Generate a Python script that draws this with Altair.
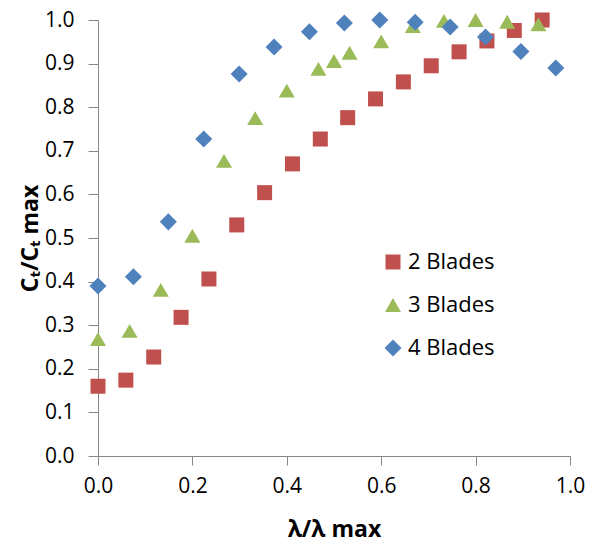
import altair as alt
import pandas as pd

series_names = ["2 Blades", "3 Blades", "4 Blades"]

x2 = [0.0, 0.059, 0.118, 0.176, 0.235, 0.294, 0.353, 0.412, 0.471, 0.529,
      0.588, 0.647, 0.706, 0.765, 0.824, 0.882, 0.941]
y2 = [0.160, 0.174, 0.227, 0.318, 0.406, 0.530, 0.604, 0.670, 0.727, 0.776,
      0.819, 0.858, 0.895, 0.927, 0.952, 0.976, 1.000]

x3 = [0.0, 0.067, 0.133, 0.200, 0.267, 0.333, 0.400, 0.467, 0.500, 0.533,
      0.600, 0.667, 0.733, 0.800, 0.867, 0.933]
y3 = [0.268, 0.287, 0.381, 0.505, 0.677, 0.775, 0.838, 0.888, 0.906, 0.925,
      0.951, 0.986, 0.998, 1.000, 0.996, 0.990]

x4 = [0.0, 0.075, 0.149, 0.224, 0.299, 0.373, 0.448, 0.522, 0.597, 0.672,
      0.746, 0.821, 0.896, 0.970]
y4 = [0.390, 0.411, 0.537, 0.727, 0.876, 0.938, 0.973, 0.993, 1.000, 0.995,
      0.984, 0.961, 0.928, 0.890]

x_ticks = [0.0, 0.2, 0.4, 0.6, 0.8, 1.0]
y_ticks = [0.0, 0.1, 0.2, 0.3, 0.4, 0.5, 0.6, 0.7, 0.8, 0.9, 1.0]

colors = ["#C0504D", "#9BBB59", "#4F81BD"]
shapes = ["square", "triangle-up", "diamond"]
sizes = [225, 290, 300]

rows = []
for name, xs, ys in zip(series_names, [x2, x3, x4], [y2, y3, y4]):
    for a, b in zip(xs, ys):
        rows.append({"x": a, "y": b, "series": name})
df = pd.DataFrame(rows)

FONT = "Open Sans"

legend_kw = dict(title=None, orient="none", legendX=284, legendY=231)

chart = alt.Chart(df).mark_point(filled=True, opacity=1, strokeWidth=0).encode(
    x=alt.X("x:Q",
            scale=alt.Scale(domain=[0, 1], nice=False, zero=False),
            axis=alt.Axis(values=x_ticks, format=".1f", title="λ/λ max",
                          grid=False, tickSize=9, labelPadding=10,
                          labelFlush=False, titleY=62, titleFontSize=23)),
    y=alt.Y("y:Q",
            scale=alt.Scale(domain=[0, 1], nice=False, zero=False),
            axis=alt.Axis(values=y_ticks, format=".1f", title="Cₜ/Cₜ max",
                          grid=False, tickSize=10, labelPadding=14,
                          labelFlush=False, titleX=-56, titleY=218,
                          titleFontSize=23)),
    color=alt.Color("series:N",
                    scale=alt.Scale(domain=series_names, range=colors),
                    legend=alt.Legend(**legend_kw)),
    shape=alt.Shape("series:N",
                    scale=alt.Scale(domain=series_names, range=shapes),
                    legend=alt.Legend(**legend_kw)),
    size=alt.Size("series:N",
                  scale=alt.Scale(domain=series_names, range=sizes),
                  legend=None),
).properties(
    width=472, height=436,
    autosize=alt.AutoSizeParams(type="none"),
    padding={"left": 98, "top": 20, "right": 29, "bottom": 92},
).configure_view(
    stroke=None
).configure_axis(
    domainColor="#868686", tickColor="#868686", domainWidth=1, tickWidth=1,
    labelFont=FONT, labelFontSize=21, labelColor="#000000",
    titleFont=FONT, titleFontWeight="bold", titleColor="#000000",
).configure_legend(
    labelFont=FONT, labelFontSize=22, labelColor="#000000",
    symbolSize=180, symbolStrokeWidth=0, rowPadding=21, padding=0,
    symbolOpacity=1,
)

chart.save("out.html", embed_options={"renderer": "svg", "actions": False})
